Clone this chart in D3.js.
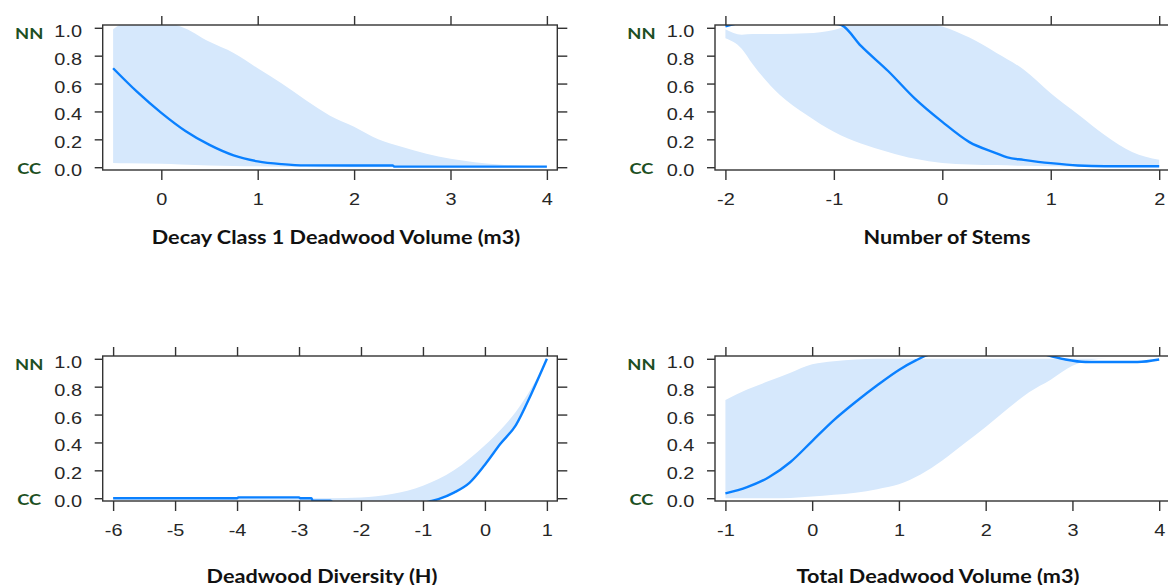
<!DOCTYPE html>
<html>
<head>
<meta charset="utf-8">
<script src="https://cdn.jsdelivr.net/npm/d3@7"></script>
<style>
  body { margin: 0; background: #fff; }
  svg { display: block; }
</style>
</head>
<body>
<svg id="chart" width="1168" height="585"></svg>
<script>
// Decay class 1 deadwood volume
const decayX     = [-0.5, -0.25, 0, 0.25, 0.5, 0.75, 1, 1.25, 1.5, 2, 2.4, 2.42, 3, 3.5, 4];
const decayFit   = [0.71, 0.54, 0.39, 0.26, 0.16, 0.085, 0.042, 0.022, 0.013, 0.012, 0.012, 0.004, 0.004, 0.004, 0.004];
const decayBandX = [-0.5, -0.35, 0, 0.2, 0.5, 0.75, 1, 1.25, 1.5, 1.75, 2, 2.25, 2.5, 2.75, 3, 3.25, 3.5, 4];
const decayUpper = [0.99, 1.04, 1.04, 1.01, 0.90, 0.82, 0.71, 0.60, 0.48, 0.37, 0.29, 0.20, 0.145, 0.096, 0.06, 0.036, 0.02, 0.007];
const decayLower = [0.03, 0.028, 0.024, 0.02, 0.012, 0.009, 0.007, 0.004, 0.002, 0, 0, 0, 0, 0, 0, 0, 0, 0];

// Number of stems
const stemsX     = [-2, -1.9, -1.5, -1.0, -0.93, -0.75, -0.5, -0.25, 0, 0.25, 0.5, 0.6, 0.75, 1, 1.25, 1.5, 2];
const stemsFit   = [1.01, 1.03, 1.06, 1.03, 1.02, 0.87, 0.69, 0.49, 0.325, 0.18, 0.10, 0.07, 0.053, 0.029, 0.012, 0.007, 0.007];
const stemsBandX = [-2, -1.85, -1.75, -1.5, -1.25, -1, -0.75, -0.5, -0.25, 0, 0.25, 0.5, 0.75, 1, 1.25, 1.5, 1.75, 2];
const stemsUpper = [0.99, 0.95, 0.955, 0.955, 0.96, 0.985, 1.04, 1.04, 1.04, 1.01, 0.93, 0.82, 0.70, 0.53, 0.38, 0.23, 0.11, 0.053];
const stemsLower = [0.925, 0.85, 0.74, 0.52, 0.375, 0.255, 0.17, 0.11, 0.06, 0.03, 0.02, 0.015, 0.01, 0.007, 0.004, 0.002, 0, 0];

// Deadwood diversity
const divX     = [-6, -4, -3.98, -3, -2.98, -2.8, -2.78, -2.5, -2.4, -1.5, -0.9, -0.75, -0.5, -0.25, 0, 0.25, 0.5, 0.75, 1];
const divFit   = [0, 0, 0.006, 0.006, 0, 0, -0.018, -0.018, -0.05, -0.08, -0.024, -0.007, 0.04, 0.11, 0.24, 0.39, 0.525, 0.75, 1.0];
const divBandX = [-6, -2.5, -2, -1.5, -1, -0.5, 0, 0.25, 0.5, 0.75, 1];
const divUpper = [0, 0, 0.005, 0.03, 0.09, 0.20, 0.38, 0.49, 0.62, 0.79, 1.0];
const divLower = [0, -0.03, -0.06, -0.08, -0.04, 0.035, 0.235, 0.385, 0.52, 0.745, 0.995];

// Total deadwood volume
const totX     = [-1, -0.75, -0.5, -0.25, 0, 0.25, 0.5, 0.75, 1, 1.2, 1.3, 1.6, 2, 2.5, 2.75, 2.92, 3.15, 3.75, 4];
const totFit   = [0.035, 0.08, 0.15, 0.26, 0.41, 0.56, 0.69, 0.81, 0.92, 0.99, 1.02, 1.06, 1.08, 1.06, 1.02, 0.995, 0.977, 0.977, 0.995];
const totBandX = [-1, -0.75, -0.5, -0.25, 0, 0.25, 0.5, 0.75, 1, 1.25, 1.5, 1.75, 2, 2.25, 2.5, 2.75, 3, 3.2, 3.4, 4];
const totUpper = [0.705, 0.78, 0.84, 0.90, 0.96, 0.983, 0.995, 1, 1, 1, 1, 1, 1, 1, 1, 1, 1, 1, 1, 1];
const totLower = [0, 0, 0, 0.002, 0.012, 0.025, 0.04, 0.065, 0.10, 0.17, 0.27, 0.39, 0.51, 0.64, 0.76, 0.85, 0.95, 0.99, 1, 1];

const yTicks = [0, 0.2, 0.4, 0.6, 0.8, 1.0];
const classLabels = ["CC", "NN"];

const panels = [
  { title: "Decay Class 1 Deadwood Volume (m3)", x: decayX, fit: decayFit, bx: decayBandX, lo: decayLower, hi: decayUpper,
    ticks: [0, 1, 2, 3, 4], left: 102.7, top: 25, titleX: 336, titleY: 243.5 },
  { title: "Number of Stems", x: stemsX, fit: stemsFit, bx: stemsBandX, lo: stemsLower, hi: stemsUpper,
    ticks: [-2, -1, 0, 1, 2], left: 715, top: 25, titleX: 947, titleY: 243.5 },
  { title: "Deadwood Diversity (H)", x: divX, fit: divFit, bx: divBandX, lo: divLower, hi: divUpper,
    ticks: [-6, -5, -4, -3, -2, -1, 0, 1], left: 102.7, top: 356, titleX: 322, titleY: 582.5 },
  { title: "Total Deadwood Volume (m3)", x: totX, fit: totFit, bx: totBandX, lo: totLower, hi: totUpper,
    ticks: [-1, 0, 1, 2, 3, 4], left: 715, top: 356, titleX: 938, titleY: 582.5 }
];

const W = 454.6, H = 145;
const bandColor = "#d6e8fc", lineColor = "#0a80ff", frameColor = "#333";
// the source picture is stretched sideways, so its glyphs are wider than tall
const stretch = 1.17;
const sansBold = "Lato, 'Open Sans', sans-serif";

const svg = d3.select("#chart");
svg.append("rect").attr("width", 1168).attr("height", 585).attr("fill", "#fff");

panels.forEach((p, i) => {
  const xMin = d3.min(p.x), xMax = d3.max(p.x), r = xMax - xMin;
  const x = d3.scaleLinear().domain([xMin - 0.024 * r, xMax + 0.024 * r]).range([0, W]);
  const y = d3.scaleLinear().domain([-0.02, 1.02]).range([H, 0]);

  const g = svg.append("g").attr("transform", `translate(${p.left},${p.top})`);

  g.append("clipPath").attr("id", "clip" + i)
    .append("rect").attr("width", W).attr("height", H);

  const band = p.bx.map((v, j) => ({ x: v, lo: p.lo[j], hi: p.hi[j] }));
  const fit = p.x.map((v, j) => ({ x: v, y: p.fit[j] }));

  const plot = g.append("g").attr("clip-path", `url(#clip${i})`);
  plot.append("path")
    .datum(band)
    .attr("fill", bandColor)
    .attr("d", d3.area().curve(d3.curveMonotoneX)
      .x(d => x(d.x)).y0(d => y(d.lo)).y1(d => y(d.hi)));
  plot.append("path")
    .datum(fit)
    .attr("fill", "none")
    .attr("stroke", lineColor)
    .attr("stroke-width", 2.4)
    .attr("d", d3.line().curve(d3.curveMonotoneX).x(d => x(d.x)).y(d => y(d.y)));

  // axes: labels on left and bottom, bare ticks on top and right
  const axStyle = sel => {
    sel.select(".domain").remove();
    sel.selectAll(".tick line").attr("stroke", frameColor).attr("stroke-width", 1.4);
    sel.selectAll(".tick text").attr("fill", "#262626")
      .attr("transform", `scale(${stretch},1)`)
      .style("font-family", "'Liberation Sans', Arial, sans-serif").style("font-size", "17px");
  };
  g.append("g").call(d3.axisLeft(y).tickValues(yTicks).tickFormat(d3.format(".1f")).tickSize(8))
    .call(axStyle)
    .selectAll(".tick text").attr("x", -20.7 / stretch).attr("dy", "0.5em");
  g.append("g").attr("transform", `translate(${W},0)`)
    .call(d3.axisRight(y).tickValues(yTicks).tickFormat("").tickSize(10)).call(axStyle);
  g.append("g").attr("transform", `translate(0,${H})`)
    .call(d3.axisBottom(x).tickValues(p.ticks).tickFormat(d => String(d)).tickSize(10).tickPadding(13))
    .call(axStyle);
  g.append("g").call(d3.axisTop(x).tickValues(p.ticks).tickFormat("").tickSize(9)).call(axStyle);

  g.append("rect").attr("width", W).attr("height", H)
    .attr("fill", "none").attr("stroke", frameColor).attr("stroke-width", 1.4);

  // class labels beside the probability axis
  g.selectAll(".cls").data(classLabels).enter().append("text")
    .attr("transform", (d, j) => `translate(-73.5,${y(j) + (j ? 11.2 : 6.8)}) scale(${stretch},1)`)
    .attr("text-anchor", "middle")
    .attr("fill", "#1d4f23")
    .style("font-family", sansBold).style("font-weight", "bold").style("font-size", "15.7px")
    .text(d => d);

  svg.append("text")
    .attr("transform", `translate(${p.titleX},${p.titleY}) scale(${stretch},1)`)
    .attr("text-anchor", "middle").attr("fill", "#111")
    .style("font-family", sansBold).style("font-weight", "bold").style("font-size", "18.5px")
    .text(p.title);
});
</script>
</body>
</html>
